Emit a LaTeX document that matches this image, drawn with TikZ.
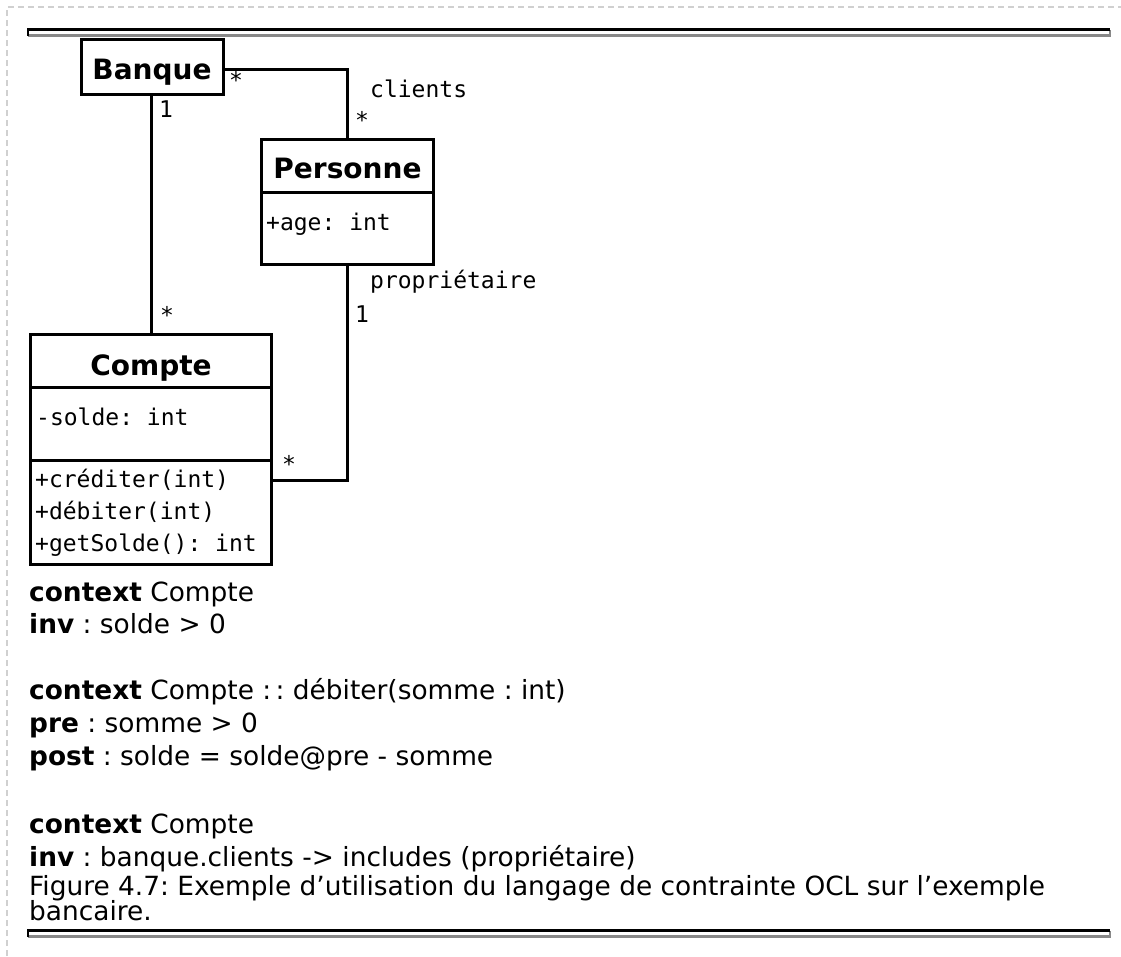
\documentclass[tikz,border=0pt]{standalone}
\usepackage{fontspec}
\setmainfont{DejaVu Sans}
\newfontfamily\monof{DejaVu Sans Mono}
\usetikzlibrary{calc}
\frenchspacing
\begin{document}
\frenchspacing
\begin{tikzpicture}[x=1pt,y=-1pt,
  umlbox/.style={draw, line width=3pt, rectangle, inner sep=0pt},
  conn/.style={line width=3pt},
  divider/.style={line width=3pt},
  title/.style={inner sep=0pt, anchor=base, font=\fontsize{28}{32}\selectfont\bfseries},
  mono/.style={inner sep=0pt, anchor=base west, font=\fontsize{23}{28}\selectfont\monof},
  mult/.style={inner sep=0pt, anchor=base, font=\fontsize{23}{28}\selectfont\monof},
  txt/.style={inner sep=0pt, anchor=base west, font=\fontsize{26.4}{33}\selectfont},
  ruleblack/.style={line width=2.5pt, black},
  rulegray/.style={line width=2.5pt, color={rgb,255:red,136;green,136;blue,136}},
  frame/.style={line width=1.2pt, color={rgb,255:red,208;green,208;blue,208}, dash pattern=on 6pt off 4pt}
]
\useasboundingbox (0,0) rectangle (1121,956);
% page frame
\draw[frame] (7,956) -- (7,7) -- (1121,7);
% rules
\draw[rulegray] (28,35.5) -- (1110,35.5) -- (1110,29.5);
\draw[ruleblack] (28,35.5) -- (28,29.5) -- (1110,29.5);
\draw[rulegray] (28,936.5) -- (1110,936.5) -- (1110,930.5);
\draw[ruleblack] (28,936.5) -- (28,930.5) -- (1110,930.5);

% boxes
\node[umlbox, minimum width=142pt, minimum height=55pt] (banque) at (152.5,67) {};
\node[umlbox, minimum width=172pt, minimum height=125pt] (personne) at (347.5,202) {};
\node[umlbox, minimum width=241pt, minimum height=230pt] (compte) at (151,449.5) {};

% dividers
\draw[divider] ([yshift=-54.5pt]personne.north west) -- ([yshift=-54.5pt]personne.north east);
\draw[divider] ([yshift=-54.5pt]compte.north west) -- ([yshift=-54.5pt]compte.north east);
\draw[divider] ([yshift=-127.5pt]compte.north west) -- ([yshift=-127.5pt]compte.north east);

% titles and members
\node[title] (tbanque) at (152,79) {Banque};
\node[title] (tpersonne) at (347.5,178) {Personne};
\node[title] (tcompte) at (151,375) {Compte};
\node[mono] (age) at (266,230) {+age: int};
\node[mono] (solde) at (36,425) {-solde: int};
\node[mono] (m1) at (35,487) {+créditer(int)};
\node[mono] (m2) at (35,519) {+débiter(int)};
\node[mono] (m3) at (35,551) {+getSolde(): int};

% connectors
\draw[conn] ([yshift=-2pt]banque.east) -| (personne.north);
\draw[conn] (compte.north |- banque.south) -- (compte.north);
\draw[conn] (personne.south) |- ([yshift=-30.5pt]compte.east);

% association labels
\node[mult] (s1) at (236,88) {*};
\node[mono] (lclients) at (370,97) {clients};
\node[mult] (s2) at (362,128) {*};
\node[mult] (o1) at (166,117) {1};
\node[mult] (s3) at (167,323) {*};
\node[mono] (lprop) at (370,288) {propriétaire};
\node[mult] (o2) at (362,322) {1};
\node[mult] (s4) at (289,472) {*};

% OCL text
\node[txt] (l1) at (29,601) {\textbf{context} Compte};
\node[txt] (l2) at (29,633) {\textbf{inv} : solde > 0};
\node[txt] (l3) at (29,699) {\textbf{context} Compte :\,: débiter(somme : int)};
\node[txt] (l4) at (29,732) {\textbf{pre} : somme > 0};
\node[txt] (l5) at (29,765) {\textbf{post} : solde = solde@pre - somme};
\node[txt] (l6) at (29,833) {\textbf{context} Compte};
\node[txt] (l7) at (29,866) {\textbf{inv} : banque.clients -> includes (propriétaire)};
\node[txt] (cap1) at (29,895) {Figure 4.7: Exemple d’utilisation du langage de contrainte OCL sur l’exemple};
\node[txt] (cap2) at (29,920) {bancaire.};
\end{tikzpicture}
\end{document}
